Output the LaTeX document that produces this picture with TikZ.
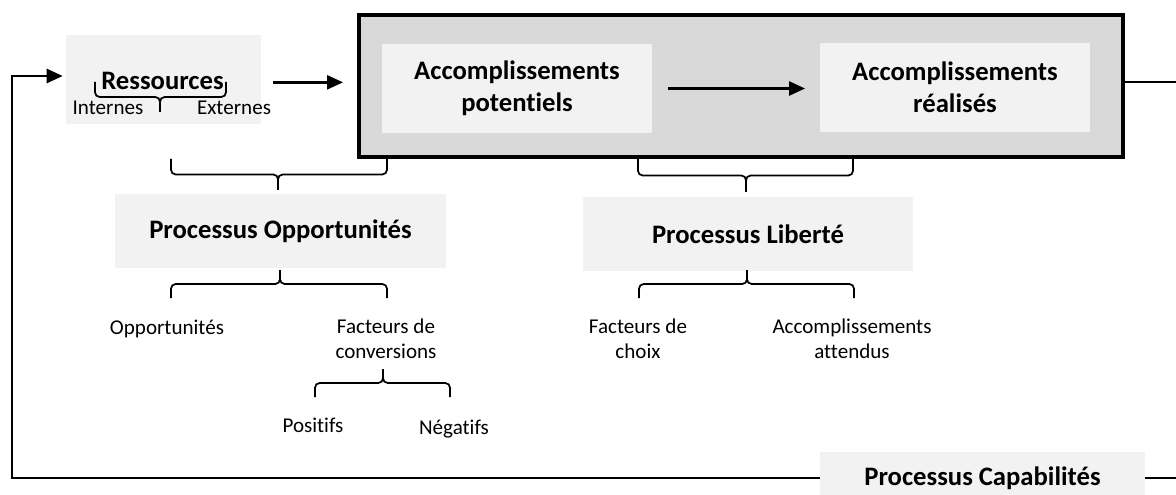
\documentclass[tikz,border=0pt]{standalone}
\usepackage{fontspec}
\setmainfont{Carlito}[Ligatures={NoCommon,NoContextual}]
\usetikzlibrary{arrows.meta,calc}
\definecolor{fondclair}{HTML}{F2F2F2}
\definecolor{fondgris}{HTML}{D9D9D9}
\newcommand{\grand}{\bfseries\fontsize{20}{24}\selectfont}
\newcommand{\petit}{\fontsize{15.8}{18.75}\selectfont}
\newcommand{\accolade}[3]{%
  \draw[accolade] (#1) -- ($(#1)!.5!(#1 |- #3)$) -| (#3);
  \draw[accolade] (#2) -- ($(#2)!.5!(#2 |- #3)$) -| (#3);}
\tikzset{
  boite/.style={fill=fondclair, inner sep=0pt, align=center, font=\grand},
  texte/.style={inner sep=0pt, align=center, font=\petit},
  fleche/.style={line width=1.9pt, -{Triangle[length=12pt,width=10.5pt]}},
  trait/.style={line width=1.9pt},
  accolade/.style={line width=1.3pt, rounded corners=3.5pt},
}

\begin{document}
\begin{tikzpicture}[x=0.75pt,y=-0.75pt]
    \useasboundingbox (0,0) rectangle (1176,495);
    % cadre des accomplissements
    \node[draw, line width=3pt, fill=fondgris, minimum width=573pt, minimum height=106.5pt] (cadre) at (741,86) {};
    \node[boite, minimum width=202.5pt, minimum height=66.75pt] (potentiels) at (517,88.5) {Accomplissements\\potentiels};
    \node[boite, minimum width=202.5pt, minimum height=66.75pt] (realises) at (955,87.5) {Accomplissements\\réalisés};
    % ressources
    \node[fill=fondclair, minimum width=146.25pt, minimum height=66.75pt] (ressbox) at (163.5,79.5) {};
    \node[font=\grand, inner sep=0pt] (ress) at (162.5,81) {Ressources};
    \node[texte] (internes) at (108,108) {Internes};
    \node[texte] (externes) at (234,108) {Externes};
    % processus
    \node[boite, minimum width=248.25pt, minimum height=55.5pt] (opport) at (280.5,231) {Processus Opportunités};
    \node[boite, minimum width=247.5pt, minimum height=55.5pt] (liberte) at (748,234) {Processus Liberté};
    \node[boite, minimum width=243.75pt, minimum height=39pt] (capab) at (982.5,478) {Processus Capabilités};
    % sous-textes
    \node[texte] (opps) at (167,329) {Opportunités};
    \node[texte] (conv) at (386,339) {Facteurs de\\conversions};
    \node[texte] (choix) at (638,339) {Facteurs de\\choix};
    \node[texte] (attendus) at (852,339) {Accomplissements\\attendus};
    \node[texte] (positifs) at (313,425) {Positifs};
    \node[texte] (negatifs) at (454,429.5) {Négatifs};

    % fleches
    \draw[fleche, shorten <=9pt, shorten >=10.5pt] ([yshift=-1pt]ressbox.east |- ress) -- ([yshift=-1pt]cadre.west |- ress);
    \draw[fleche, shorten <=12pt, shorten >=11pt] (potentiels.east) -- (realises.west |- potentiels.east);
    \coordinate (coin) at (12,76);
    \draw[fleche, shorten >=2.25pt] (capab.west) -| (coin) -- (ressbox.west |- coin);
    \draw[trait] ([yshift=3pt]cadre.east) -- ++(51,0);
    \draw[trait] (capab.east) -- ++(40,0);

    % accolades
    \coordinate (rg) at (95,82);   \coordinate (rd) at (226,82);  \coordinate (rp) at (160,112);
    \coordinate (og) at (171,159); \coordinate (od) at (387,159); \coordinate (op) at (278,190);
    \coordinate (ug) at (171,298); \coordinate (ud) at (387,298); \coordinate (up) at (280,270);
    \coordinate (fg) at (315,397); \coordinate (fd) at (450,397); \coordinate (fp) at (383,369);
    \coordinate (lg) at (638,159); \coordinate (ld) at (853,159); \coordinate (lp) at (746,192);
    \coordinate (mg) at (639,298); \coordinate (md) at (854,298); \coordinate (mp) at (747,270);
    \accolade{rg}{rd}{rp}
    \accolade{og}{od}{op}
    \accolade{ug}{ud}{up}
    \accolade{fg}{fd}{fp}
    \accolade{lg}{ld}{lp}
    \accolade{mg}{md}{mp}
\end{tikzpicture}
\end{document}
